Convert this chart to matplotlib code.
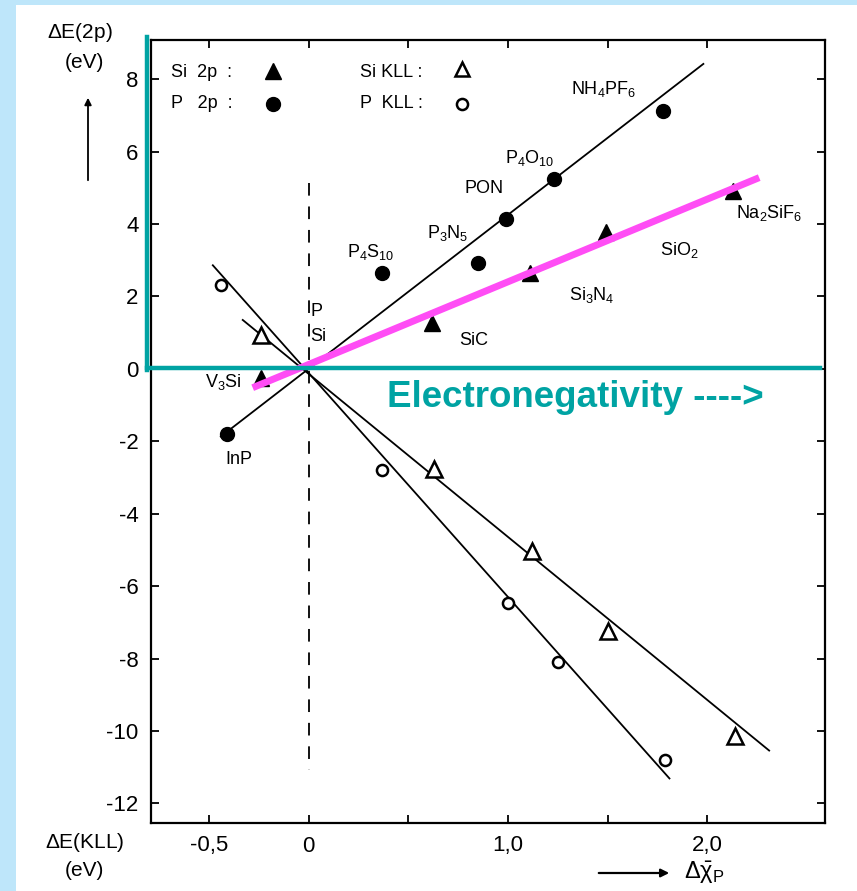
import numpy as np
import matplotlib
matplotlib.use("Agg")
import matplotlib.pyplot as plt
from matplotlib.lines import Line2D
from matplotlib.patches import Rectangle

plt.rcParams['font.family'] = ['Liberation Sans', 'DejaVu Sans']
plt.rcParams['mathtext.fontset'] = 'custom'
plt.rcParams['mathtext.rm'] = 'Liberation Sans'
plt.rcParams['mathtext.it'] = 'Liberation Sans:italic'
plt.rcParams['mathtext.default'] = 'regular'

# --- data ---
# P 2p chemical shifts (filled circles)
p2p_x = [-0.41, 0.37, 0.85, 0.99, 1.23, 1.78]
p2p_y = [-1.79, 2.64, 2.92, 4.15, 5.25, 7.12]
# Si 2p shifts (filled triangles)
si2p_x = [-0.24, 0.62, 1.11, 1.49, 2.13]
si2p_y = [-0.25, 1.27, 2.64, 3.77, 4.92]
# Si KLL shifts (open triangles)
sikll_x = [-0.24, 0.63, 1.12, 1.50, 2.14]
sikll_y = [0.94, -2.76, -5.04, -7.23, -10.15]
# P KLL shifts (open circles)
pkll_x = [-0.44, 0.37, 1.00, 1.25, 1.79]
pkll_y = [2.31, -2.78, -6.46, -8.09, -10.81]

# fitted lines (end points as drawn)
p2p_fit_x = [-0.44, 1.98]
p2p_fit_y = [-1.87, 8.42]
sikll_fit_x = [-0.33, 2.31]
sikll_fit_y = [1.35, -10.54]
pkll_fit_x = [-0.48, 1.81]
pkll_fit_y = [2.86, -11.31]
si2p_fit_x = [-0.28, 2.26]   # magenta overlay
si2p_fit_y = [-0.52, 5.28]

yticks = [8, 6, 4, 2, 0, -2, -4, -6, -8, -10, -12]
xticks = [-0.5, 0, 0.5, 1.0, 1.5, 2.0]
xticklabels = ['-0,5', '0', '', '1,0', '', '2,0']

teal = '#00A3A3'
W, H = 857, 891

fig = plt.figure(figsize=(W / 100, H / 100), dpi=100)
fig.patch.set_facecolor('#BEE6FA')
fig.patches.append(Rectangle((16 / W, 0), 1 - 16 / W, 1 - 5 / H,
                             transform=fig.transFigure, facecolor='white',
                             edgecolor='none', zorder=-5))

ax = fig.add_axes([151 / W, 1 - 823 / H, (825 - 151) / W, (823 - 40) / H])
ax.set_xlim(-0.79, 2.59)
ax.set_ylim(-12.54, 9.08)
ax.set_facecolor('white')
for s in ax.spines.values():
    s.set_linewidth(1.6)

ax.set_yticks(yticks)
ax.set_yticklabels([str(v) for v in yticks])
ax.set_xticks(xticks)
ax.set_xticklabels(xticklabels)
ax.tick_params(direction='in', length=6, width=1.3, top=True, right=True,
               labelsize=16, pad=9)

# dashed zero line
ax.plot([0, 0], [5.14, -11.09], color='black', lw=1.3, dashes=(7, 6))

# fit lines
ax.plot(p2p_fit_x, p2p_fit_y, color='black', lw=1.3)
ax.plot(sikll_fit_x, sikll_fit_y, color='black', lw=1.3)
ax.plot(pkll_fit_x, pkll_fit_y, color='black', lw=1.3)

# data points
ax.plot(p2p_x, p2p_y, 'o', color='black', ms=10, zorder=4)
ax.plot(si2p_x, si2p_y, '^', color='black', ms=11, zorder=4)
ax.plot(sikll_x, sikll_y, '^', mfc='white', mec='black', mew=1.8, ms=11, zorder=4)
ax.plot(pkll_x, pkll_y, 'o', mfc='white', mec='black', mew=1.8, ms=8, zorder=4)

# magenta overlay line
ax.plot(si2p_fit_x, si2p_fit_y, color='#FF4DF5', lw=5, solid_capstyle='butt', zorder=5)

# legend block
lab_kw = dict(fontsize=13, va='center')
ax.text(-0.69, 8.17, 'Si  2p  :', ha='left', **lab_kw)
ax.text(-0.69, 7.32, 'P   2p  :', ha='left', **lab_kw)
ax.text(0.26, 8.17, 'Si KLL :', ha='left', **lab_kw)
ax.text(0.26, 7.32, 'P  KLL :', ha='left', **lab_kw)
ax.plot([-0.18], [8.23], '^', color='black', ms=11)
ax.plot([-0.18], [7.32], 'o', color='black', ms=10)
ax.plot([0.77], [8.28], '^', mfc='white', mec='black', mew=1.8, ms=10)
ax.plot([0.77], [7.32], 'o', mfc='white', mec='black', mew=1.8, ms=8)

# compound labels
ax.text(1.48, 7.73, 'NH$_4$PF$_6$', ha='center', **lab_kw)
ax.text(1.11, 5.83, 'P$_4$O$_{10}$', ha='center', **lab_kw)
ax.text(0.88, 4.98, 'PON', ha='center', **lab_kw)
ax.text(0.70, 3.74, 'P$_3$N$_5$', ha='center', **lab_kw)
ax.text(0.31, 3.22, 'P$_4$S$_{10}$', ha='center', **lab_kw)
ax.text(2.31, 4.29, 'Na$_2$SiF$_6$', ha='center', **lab_kw)
ax.text(1.86, 3.27, 'SiO$_2$', ha='center', **lab_kw)
ax.text(1.42, 2.04, 'Si$_3$N$_4$', ha='center', **lab_kw)
ax.text(0.83, 0.77, 'SiC', ha='center', **lab_kw)
ax.text(-0.43, -0.36, 'V$_3$Si', ha='center', **lab_kw)
ax.text(-0.35, -2.50, 'InP', ha='center', **lab_kw)
ax.text(0.01, 1.57, 'P', ha='left', **lab_kw)
ax.text(0.01, 0.88, 'Si', ha='left', **lab_kw)

# teal overlay axes
fig.add_artist(Line2D([147 / W, 147 / W], [1 - 37 / H, 1 - 370 / H],
                      color=teal, lw=3.2, transform=fig.transFigure, zorder=6))
fig.add_artist(Line2D([147 / W, 820 / W], [1 - 368 / H, 1 - 368 / H],
                      color=teal, lw=3.2, transform=fig.transFigure, zorder=6))
fig.text(387 / W, 1 - 397 / H, 'Electronegativity ---->', color=teal,
         fontsize=26.5, fontweight='bold', ha='left', va='center',
         family='Liberation Sans', zorder=6)

# axis titles
fig.text(80 / W, 1 - 33 / H, r'$\Delta$E(2p)', fontsize=15, ha='center', va='center')
fig.text(84 / W, 1 - 63 / H, '(eV)', fontsize=15, ha='center', va='center')
fig.add_artist(plt.Annotation('', xy=(88 / W, 1 - 95 / H), xytext=(88 / W, 1 - 183 / H),
                              xycoords='figure fraction', textcoords='figure fraction',
                              arrowprops=dict(arrowstyle='-|>', color='black', lw=1.3,
                                              mutation_scale=10)))
fig.text(85 / W, 1 - 842 / H, r'$\Delta$E(KLL)', fontsize=15, ha='center', va='center')
fig.text(84 / W, 1 - 870 / H, '(eV)', fontsize=15, ha='center', va='center')
fig.add_artist(plt.Annotation('', xy=(672 / W, 1 - 873 / H), xytext=(596 / W, 1 - 873 / H),
                              xycoords='figure fraction', textcoords='figure fraction',
                              arrowprops=dict(arrowstyle='-|>', color='black', lw=1.6,
                                              mutation_scale=12)))
fig.text(684 / W, 1 - 873 / H, r'$\Delta\bar{\chi}_{P}$', fontsize=17, ha='left', va='center')

fig.savefig('out.png', dpi=100, facecolor=fig.get_facecolor())
